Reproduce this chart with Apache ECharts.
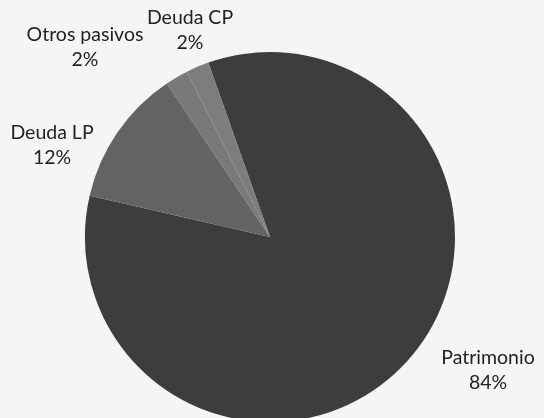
<!DOCTYPE html>
<html>
<head>
<meta charset="utf-8">
<script src="https://cdn.jsdelivr.net/npm/echarts@6/dist/echarts.min.js"></script>
<style>
html,body{margin:0;padding:0;background:#f5f5f5;}
#c{width:544px;height:418px;}
</style>
</head>
<body>
<div id="c"></div>
<script>
var categories = ['Patrimonio', 'Deuda LP', 'Otros pasivos', 'Deuda CP'];
var values = [84, 12, 2, 2];
var colors = ['#3d3d3d', '#636363', '#797979', '#7d7d7d'];
// label anchor positions (centre of the two-line label), px
var labelPos = [[488, 370], [52, 145], [85, 47], [190, 30]];

var chart = echarts.init(document.getElementById('c'), null, {renderer: 'canvas'});
chart.setOption({
  backgroundColor: '#f5f5f5',
  animation: false,
  series: [{
    type: 'pie',
    center: [270, 237],
    radius: 185,
    startAngle: 109.5,
    clockwise: true,
    avoidLabelOverlap: false,
    data: categories.map(function (c, i) {
      return {name: c, value: values[i], itemStyle: {color: colors[i]}};
    }),
    itemStyle: {borderWidth: 0},
    label: {
      show: true,
      position: 'outside',
      formatter: function (p) { return p.name + '\n' + Math.round(p.percent) + '%'; },
      fontFamily: 'Lato',
      fontSize: 19.5,
      lineHeight: 25,
      color: '#222',
      align: 'center'
    },
    labelLine: {show: false},
    labelLayout: function (p) {
      var pos = labelPos[p.dataIndex];
      return {x: pos[0], y: pos[1], align: 'center', verticalAlign: 'middle'};
    },
    emphasis: {disabled: true}
  }]
});
</script>
</body>
</html>
